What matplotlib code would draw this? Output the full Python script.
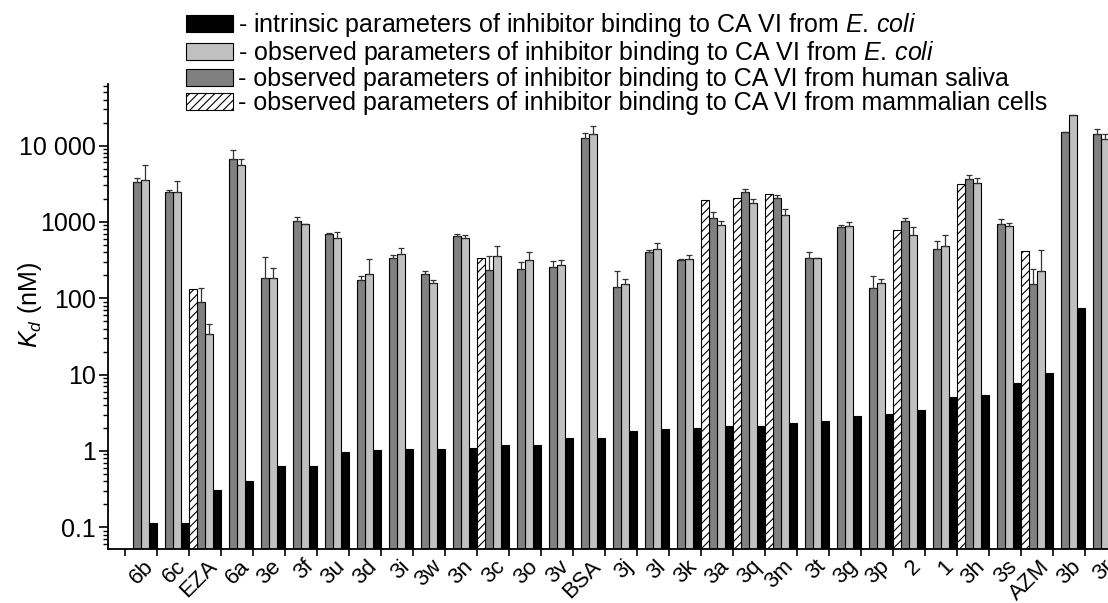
import numpy as np
import matplotlib
matplotlib.use("Agg")
import matplotlib.pyplot as plt
from matplotlib.ticker import FixedLocator, FixedFormatter, LogLocator, NullFormatter
from matplotlib.transforms import ScaledTranslation

plt.rcParams['font.family'] = ['Liberation Sans', 'DejaVu Sans']
plt.rcParams['mathtext.fontset'] = 'custom'
plt.rcParams['mathtext.rm'] = 'Liberation Sans'
plt.rcParams['mathtext.it'] = 'Liberation Sans:italic'
plt.rcParams['hatch.linewidth'] = 0.8

# compounds, ordered as in the figure
compounds = ['6b', '6c', 'EZA', '6a', '3e', '3f', '3u', '3d', '3i', '3w', '3n', '3c', '3o', '3v',
             'BSA', '3j', '3l', '3k', '3a', '3q', '3m', '3t', '3g', '3p', '2', '1', '3h', '3s',
             'AZM', '3b', '3r']

nan = np.nan
# Kd (nM), mammalian cells (hatched)
kd_mammal = [nan, nan, 134, nan, nan, nan, nan, nan, nan, nan, nan, 337, nan, nan,
             nan, nan, nan, nan, 1930, 2030, 2340, nan, nan, nan, 784, nan, 3160, nan,
             411, nan, nan]
# observed, human saliva (dark grey)
kd_saliva = [3320, 2430, 88.7, 6760, 185, 1016, 687, 174, 337, 208, 654, 237, 239, 254,
             12500, 139, 408, 314, 1110, 2500, 2050, 337, 847, 135, 1016, 443, 3640, 938,
             154, 15200, 14100]
err_saliva = [480, 180, 48, 1950, 159, 130, 21, 22, 28, 17, 33, 121, 60, 51,
              2300, 86, 16, 16, 240, 160, 200, 67, 72, 61, 109, 113, 460, 153,
              85, 0, 2300]
# observed, E. coli (light grey)
kd_ecoli = [3590, 2460, 34.3, 5480, 185, 927, 621, 206, 384, 159, 621, 354, 314, 270,
            14100, 152, 437, 324, 919, 1770, 1240, 337, 873, 159, 674, 489, 3250, 884,
            228, 25400, 12100]
err_ecoli = [2050, 1020, 12.4, 1280, 62, 0, 108, 124, 67, 15, 46, 130, 94, 44,
             4200, 25, 93, 49, 97, 240, 215, 0, 112, 22, 173, 178, 500, 93,
             201, 0, 2100]
# intrinsic, E. coli (black); last one is outside the visible area
kd_intrinsic = [0.115, 0.115, 0.31, 0.41, 0.63, 0.63, 0.96, 1.03, 1.05, 1.06, 1.08, 1.18, 1.18, 1.5,
                1.5, 1.82, 1.92, 2.02, 2.12, 2.12, 2.35, 2.47, 2.87, 3.08, 3.48, 5.08, 5.4, 7.67,
                10.5, 74, nan]

labels = [
    r'- intrinsic parameters of inhibitor binding to CA VI from $\mathit{E.\,coli}$',
    r'- observed parameters of inhibitor binding to CA VI from $\mathit{E.\,coli}$',
    '- observed parameters of inhibitor binding to CA VI from human saliva',
    '- observed parameters of inhibitor binding to CA VI from mammalian cells',
]

W, H = 1108, 603
fig = plt.figure(figsize=(W / 100, H / 100), dpi=100)
xl, xr = -1.02, 30.9
ax = fig.add_axes([108 / W, 54 / H, (xr - xl) * 32 / W, 465 / H])

x = np.arange(len(compounds))
bw = 0.25
base = 1e-3
eb = dict(fmt='none', ecolor='#333333', elinewidth=0.9, capsize=2.2, capthick=0.9)

b_int = ax.bar(x + 1.5 * bw, np.array(kd_intrinsic) - base, bw, bottom=base,
               color='black', edgecolor='black', linewidth=0.8)
b_eco = ax.bar(x + 0.5 * bw, np.array(kd_ecoli) - base, bw, bottom=base,
               color='#c0c0c0', edgecolor='black', linewidth=0.8)
b_sal = ax.bar(x - 0.5 * bw, np.array(kd_saliva) - base, bw, bottom=base,
               color='#808080', edgecolor='black', linewidth=0.8)
b_mam = ax.bar(x - 1.5 * bw, np.array(kd_mammal) - base, bw, bottom=base,
               color='white', edgecolor='black', linewidth=0.8, hatch='////')
ax.errorbar(x - 0.5 * bw, kd_saliva, yerr=[np.zeros(len(x)), err_saliva], **eb)
ax.errorbar(x + 0.5 * bw, kd_ecoli, yerr=[np.zeros(len(x)), err_ecoli], **eb)

ax.set_yscale('log')
ax.set_ylim(0.052, 64000)
ax.set_xlim(xl, xr)

ax.yaxis.set_major_locator(FixedLocator([0.1, 1, 10, 100, 1000, 10000]))
ax.yaxis.set_major_formatter(FixedFormatter(['0.1', '1', '10', '100', '1000', '10 000']))
ax.yaxis.set_minor_locator(LogLocator(base=10, subs=np.arange(2, 10), numticks=20))
ax.yaxis.set_minor_formatter(NullFormatter())
ax.tick_params(axis='y', which='major', direction='out', length=6.5, width=1.2, pad=2, labelsize=18)
ax.tick_params(axis='y', which='minor', direction='out', length=3.5, width=1)

ax.set_xticks(x)
ax.set_xticklabels(compounds, rotation=45, ha='right', va='top')
ax.set_xticks(np.arange(-0.5, len(compounds), 1), minor=True)
ax.tick_params(axis='x', which='major', length=0, pad=5, labelsize=16)
ax.tick_params(axis='x', which='minor', direction='out', length=5, width=1.2)
for lbl in ax.get_xticklabels():
    lbl.set_transform(lbl.get_transform() + ScaledTranslation(0.17, 0, fig.dpi_scale_trans))

for s in ['top', 'right']:
    ax.spines[s].set_visible(False)
for s in ['left', 'bottom']:
    ax.spines[s].set_linewidth(1.3)

ax.set_ylabel(r'$K_d$ (nM)', fontsize=18)
ax.yaxis.set_label_coords(44 / W, 1 - 305 / H, transform=fig.transFigure)

fig.legend([b_int, b_eco, b_sal, b_mam], labels, loc='upper left',
           bbox_to_anchor=(186 / W, 1 - 11 / H), frameon=False, fontsize=18,
           handlelength=1.88, handleheight=0.68, handletextpad=0.2,
           labelspacing=0.0, borderpad=0, borderaxespad=0)

fig.savefig('out.png', dpi=100)
